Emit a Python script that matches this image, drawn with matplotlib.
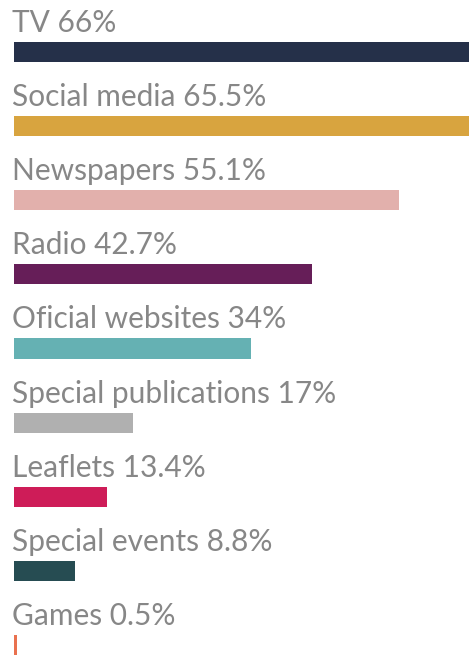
import matplotlib.pyplot as plt

channels = ["TV", "Social media", "Newspapers", "Radio", "Oficial websites",
            "Special publications", "Leaflets", "Special events", "Games"]
shares = [66, 65.5, 55.1, 42.7, 34, 17, 13.4, 8.8, 0.5]
share_labels = ["66%", "65.5%", "55.1%", "42.7%", "34%", "17%", "13.4%", "8.8%", "0.5%"]
colors = ["#253049", "#D8A43F", "#E2B0AC", "#661E58", "#65B1B3",
          "#B0B0B0", "#CE1C58", "#264C52", "#E9714F"]


def main():
    fig = plt.figure(figsize=(4.69, 6.55), dpi=100)
    ax = fig.add_axes([0, 0, 1, 1])

    ypos = list(range(len(channels)))
    ax.barh(ypos, shares, height=0.27, left=0, color=colors)

    # label sits just above each bar
    for y, name, lab in zip(ypos, channels, share_labels):
        ax.text(-0.25, y - 0.27, f"{name} {lab}", family="Lato", fontsize=21.5,
                color="#878787", va="baseline", ha="left")

    ax.set_xlim(-2, 65.2)
    ax.set_ylim(8.135, -0.7015)
    ax.axis("off")

    fig.savefig("out.png", dpi=100)


if __name__ == "__main__":
    main()
